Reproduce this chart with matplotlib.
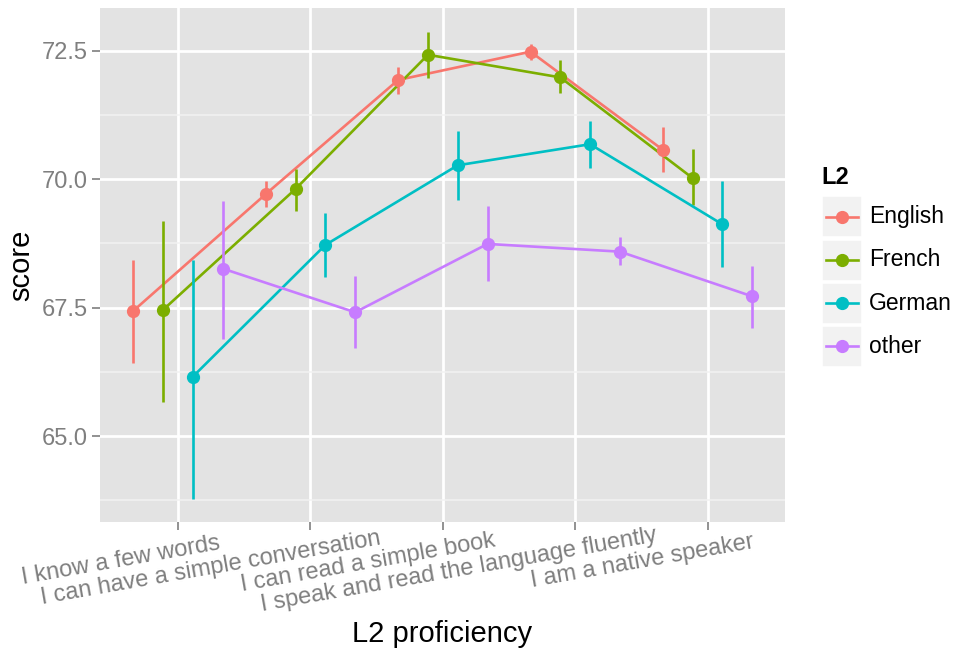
import matplotlib
matplotlib.use("Agg")
import matplotlib.pyplot as plt
import matplotlib.transforms as mtransforms
from matplotlib.patches import Rectangle
from matplotlib.lines import Line2D
import numpy as np

plt.rcParams['font.family'] = ['Liberation Sans', 'DejaVu Sans']

# proficiency levels on the x axis
levels = ["I know a few words", "I can have a simple conversation",
          "I can read a simple book", "I speak and read the language fluently",
          "I am a native speaker"]
groups = ["English", "French", "German", "other"]
colors = ["#F8766D", "#7CAE00", "#00BFC4", "#C77CFF"]

# mean score and interval per L2 group
english_mean = [67.44, 69.71, 71.93, 72.48, 70.57]
english_lo = [66.43, 69.45, 71.65, 72.32, 70.14]
english_hi = [68.42, 69.97, 72.19, 72.63, 71.01]

french_mean = [67.46, 69.81, 72.42, 71.98, 70.02]
french_lo = [65.67, 69.38, 71.96, 71.67, 69.50]
french_hi = [69.19, 70.20, 72.87, 72.31, 70.58]

german_mean = [66.16, 68.72, 70.27, 70.68, 69.12]
german_lo = [63.78, 68.09, 69.59, 70.21, 68.29]
german_hi = [68.42, 69.35, 70.93, 71.13, 69.97]

other_mean = [68.26, 67.41, 68.74, 68.59, 67.72]
other_lo = [66.90, 66.71, 68.01, 68.33, 67.11]
other_hi = [69.58, 68.11, 69.47, 68.87, 68.31]

means = [english_mean, french_mean, german_mean, other_mean]
lows = [english_lo, french_lo, german_lo, other_lo]
highs = [english_hi, french_hi, german_hi, other_hi]

W, H = 956, 652
fig = plt.figure(figsize=(W / 100, H / 100), dpi=100)
fig.patch.set_facecolor("white")

# panel box in pixels: left, top, right, bottom
pl, pt, pr, pb = 100, 8, 785, 522
ax = fig.add_axes([pl / W, 1 - pb / H, (pr - pl) / W, (pb - pt) / H])
ax.set_facecolor("#E3E3E3")
for s in ax.spines.values():
    s.set_visible(False)

x = np.arange(1, len(levels) + 1)
offsets = (np.arange(len(groups)) - 1.5) * 0.225

yticks = [65.0, 67.5, 70.0, 72.5]
ax.set_xlim(0.41, 5.585)
ax.set_ylim(63.33, 73.33)
ax.set_yticks(yticks)
ax.set_yticklabels([f"{v:.1f}" for v in yticks])
ax.set_yticks([63.75, 66.25, 68.75, 71.25], minor=True)
ax.set_xticks(x)
ax.set_xticklabels([])

ax.grid(which="major", color="white", linewidth=2.0)
ax.grid(which="minor", axis="y", color="#F2F2F2", linewidth=1.1)
ax.set_axisbelow(True)
ax.tick_params(axis="both", which="major", length=6, width=1.2, color="#7F7F7F",
               labelsize=17, labelcolor="#7F7F7F", pad=3)
ax.tick_params(axis="y", which="minor", length=0)

for g in range(len(groups)):
    xs = x + offsets[g]
    ax.plot(xs, means[g], color=colors[g], linewidth=1.9, zorder=3)
    ax.vlines(xs, lows[g], highs[g], color=colors[g], linewidth=1.9, zorder=3)
    ax.plot(xs, means[g], "o", color=colors[g], markersize=8.5, zorder=4)

# slanted category labels, anchored 80% along their length at each tick
fig.canvas.draw()
renderer = fig.canvas.get_renderer()
base = mtransforms.blended_transform_factory(ax.transData, ax.transAxes)
ang = np.deg2rad(10)
for pos, lab in zip(x, levels):
    t = ax.text(pos, 0, lab, rotation=10, rotation_mode="anchor", ha="right",
                va="top", fontsize=17, color="#7F7F7F", clip_on=False)
    w, _, _ = renderer.get_text_width_height_descent(lab, t.get_fontproperties(), ismath=False)
    dx = 0.2 * w * np.cos(ang)
    dy = 0.2 * w * np.sin(ang) - 17
    t.set_transform(base + mtransforms.Affine2D().translate(dx, dy))

fig.text((pl + pr) / 2 / W, 1 - 634 / H, "L2 proficiency", fontsize=21,
         ha="center", va="center")
fig.text(21 / W, 1 - (pt + pb) / 2 / H, "score", fontsize=21, rotation=90,
         ha="center", va="center")

# legend
fig.text(821 / W, 1 - 178 / H, "L2", fontsize=17, fontweight="bold",
         ha="left", va="center")
key_w, key_h = 40, 41
for i, (name, c) in enumerate(zip(groups, colors)):
    cy = 217 + 43 * i
    fig.patches.append(Rectangle((822 / W, 1 - (cy + key_h / 2) / H), key_w / W, key_h / H,
                                 transform=fig.transFigure, facecolor="#F2F2F2",
                                 edgecolor="white", linewidth=1.2))
    fig.lines.append(Line2D([826 / W, 858 / W], [1 - cy / H, 1 - cy / H],
                            transform=fig.transFigure, color=c, linewidth=1.9))
    fig.lines.append(Line2D([842 / W], [1 - cy / H], transform=fig.transFigure,
                            color=c, marker="o", markersize=8.5, linestyle="none"))
    fig.text(869 / W, 1 - cy / H, name, fontsize=16.5, ha="left", va="center")

fig.savefig("out.png", dpi=100)
